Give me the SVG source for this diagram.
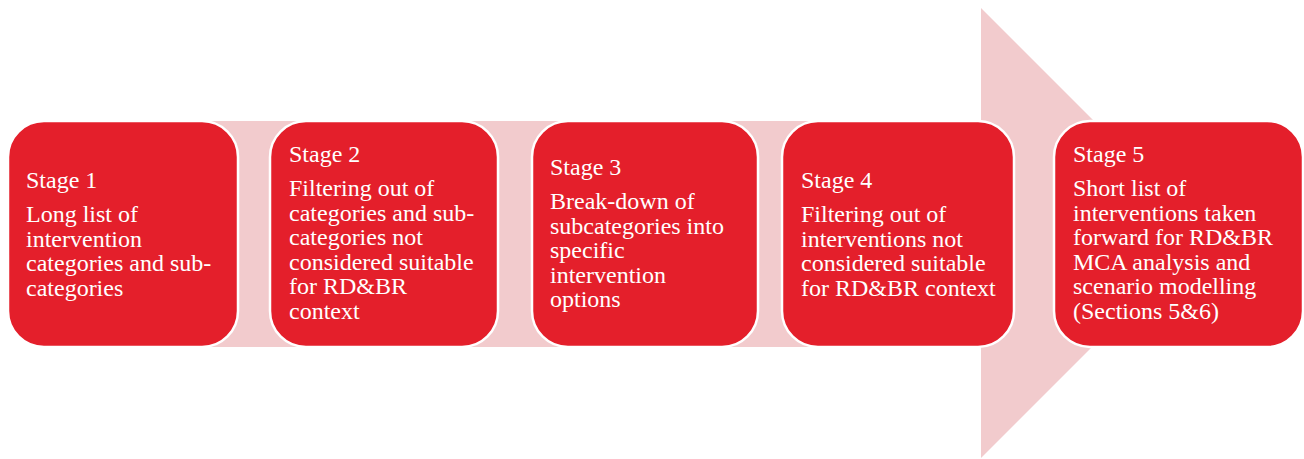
<svg xmlns="http://www.w3.org/2000/svg" width="1304" height="459" viewBox="0 0 1304 459">
  <style>
    .box { fill: #E41F2B; stroke: #FFFFFF; stroke-width: 2.5; }
    .txt { font-family: "Liberation Serif", "Times New Roman", serif; font-size: 24px; fill: #FFFFFF; }
  </style>
  <!-- background process arrow -->
  <g id="connectors">
    <path d="M60 121 H981 V8 L1206 233 L981 458 V347 H60 Z" fill="#F2CBCD"/>
  </g>
  <g id="stage1">
    <rect class="box" x="8" y="121" width="230" height="226" rx="36"/>
    <text class="txt"><tspan x="26" y="188">Stage 1</tspan><tspan x="26" y="222">Long list of</tspan><tspan x="26" y="246.5">intervention</tspan><tspan x="26" y="271">categories and sub-</tspan><tspan x="26" y="295.5">categories</tspan></text>
  </g>
  <g id="stage2">
    <rect class="box" x="270" y="121" width="228" height="226" rx="36"/>
    <text class="txt"><tspan x="289" y="162">Stage 2</tspan><tspan x="289" y="196">Filtering out of</tspan><tspan x="289" y="220.5">categories and sub-</tspan><tspan x="289" y="245">categories not</tspan><tspan x="289" y="269.5">considered suitable</tspan><tspan x="289" y="294">for RD&amp;BR</tspan><tspan x="289" y="318.5">context</tspan></text>
  </g>
  <g id="stage3">
    <rect class="box" x="532" y="121" width="226" height="226" rx="36"/>
    <text class="txt"><tspan x="550" y="175">Stage 3</tspan><tspan x="550" y="209">Break-down of</tspan><tspan x="550" y="233.5">subcategories into</tspan><tspan x="550" y="258">specific</tspan><tspan x="550" y="282.5">intervention</tspan><tspan x="550" y="307">options</tspan></text>
  </g>
  <g id="stage4">
    <rect class="box" x="782" y="121" width="232" height="226" rx="36"/>
    <text class="txt"><tspan x="801" y="188">Stage 4</tspan><tspan x="801" y="222">Filtering out of</tspan><tspan x="801" y="246.5">interventions not</tspan><tspan x="801" y="271">considered suitable</tspan><tspan x="801" y="295.5">for RD&amp;BR context</tspan></text>
  </g>
  <g id="stage5">
    <rect class="box" x="1054" y="121" width="249" height="226" rx="36"/>
    <text class="txt"><tspan x="1073" y="162">Stage 5</tspan><tspan x="1073" y="196">Short list of</tspan><tspan x="1073" y="220.5">interventions taken</tspan><tspan x="1073" y="245">forward for RD&amp;BR</tspan><tspan x="1073" y="269.5">MCA analysis and</tspan><tspan x="1073" y="294">scenario modelling</tspan><tspan x="1073" y="318.5">(Sections 5&amp;6)</tspan></text>
  </g>
</svg>
